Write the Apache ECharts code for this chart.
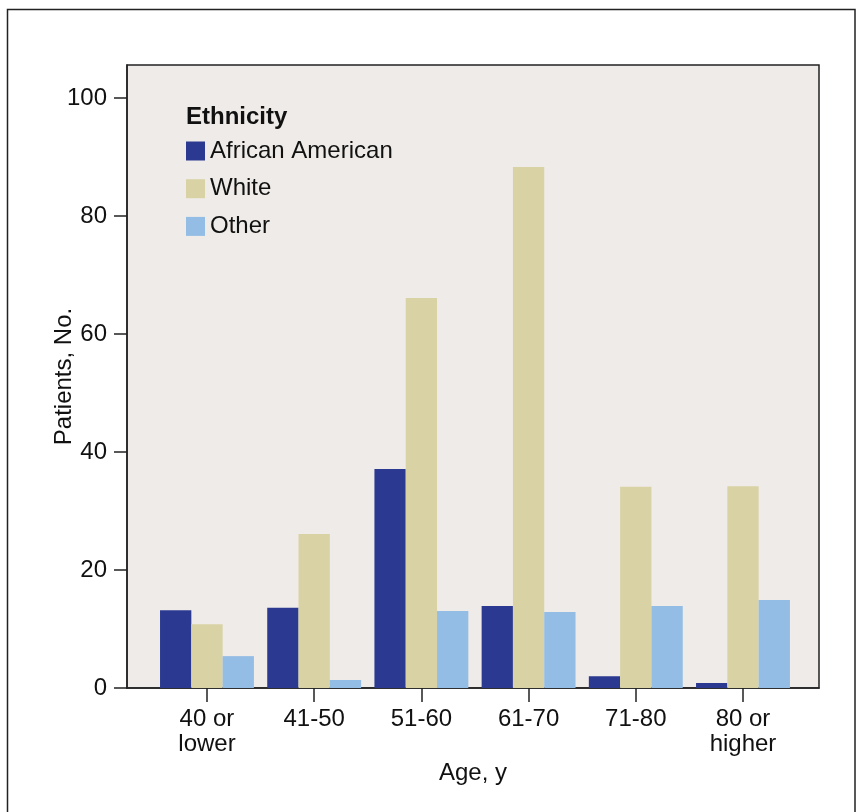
<!DOCTYPE html>
<html>
<head>
<meta charset="utf-8">
<script src="https://cdn.jsdelivr.net/npm/echarts@6/dist/echarts.min.js"></script>
<style>
  html, body { margin: 0; padding: 0; background: #ffffff; }
  #chart { width: 862px; height: 812px; }
</style>
</head>
<body>
<div id="chart"></div>
<script>
// ---- data ----
var categories = ['40 or\nlower', '41-50', '51-60', '61-70', '71-80', '80 or\nhigher'];
var seriesNames = ['African American', 'White', 'Other'];
var africanAmerican = [13.2, 13.6, 37.1, 13.9, 2.0, 0.85];
var white = [10.8, 26.1, 66.1, 88.3, 34.1, 34.2];
var other = [5.4, 1.35, 13.05, 12.9, 13.9, 14.9];
var yTicks = [0, 20, 40, 60, 80, 100];
var colors = ['#2b3990', '#d9d2a4', '#93bde4'];

var FONT = 'Liberation Sans, Arial, Helvetica, sans-serif';
var FS = 24;
var catIdx = categories.map(function (c, i) { return i; });

function toPairs(arr) { return arr.map(function (v, i) { return [i, v]; }); }

var chart = echarts.init(document.getElementById('chart'), null, { renderer: 'canvas' });

var seriesData = [africanAmerican, white, other];
var series = seriesData.map(function (arr, k) {
  return {
    name: seriesNames[k],
    type: 'bar',
    data: toPairs(arr),
    barWidth: 31.3,
    barGap: '0%',
    itemStyle: { color: colors[k] },
    emphasis: { disabled: true },
    animation: false
  };
});

var option = {
  animation: false,
  backgroundColor: '#ffffff',
  textStyle: { fontFamily: FONT },
  grid: {
    left: 127, right: 43, top: 65, bottom: 124,
    show: true,
    backgroundColor: '#efebe8',
    borderColor: '#222222',
    borderWidth: 1.5
  },
  legend: {
    orient: 'vertical',
    left: 186,
    top: 139,
    padding: 0,
    itemWidth: 19,
    itemHeight: 19,
    itemGap: 13.7,
    icon: 'rect',
    selectedMode: false,
    textStyle: { fontFamily: FONT, fontSize: FS, color: '#111111', lineHeight: 24 },
    data: seriesNames
  },
  xAxis: {
    type: 'value',
    min: -0.746,
    max: 5.709,
    splitLine: { show: false },
    axisLine: { show: true, onZero: false, lineStyle: { color: '#222222', width: 1.5 } },
    axisTick: { show: true, length: 14, customValues: catIdx, lineStyle: { color: '#222222', width: 1.5 } },
    axisLabel: {
      customValues: catIdx,
      margin: 19,
      fontFamily: FONT,
      fontSize: FS,
      lineHeight: 25,
      color: '#111111',
      formatter: function (v) { return categories[Math.round(v)] || ''; }
    },
    name: 'Age, y',
    nameLocation: 'middle',
    nameGap: 73,
    nameMoveOverlap: false,
    nameTextStyle: { fontFamily: FONT, fontSize: FS, color: '#111111' }
  },
  yAxis: {
    type: 'value',
    min: 0,
    max: 105.6,
    interval: 20,
    splitLine: { show: false },
    axisLine: { show: true, onZero: false, lineStyle: { color: '#222222', width: 1.5 } },
    axisTick: { show: true, length: 13, customValues: yTicks, lineStyle: { color: '#222222', width: 1.5 } },
    axisLabel: {
      customValues: yTicks,
      margin: 20,
      fontFamily: FONT,
      fontSize: FS,
      color: '#111111'
    },
    name: 'Patients, No.',
    nameLocation: 'middle',
    nameGap: 51,
    nameMoveOverlap: false,
    nameTextStyle: { fontFamily: FONT, fontSize: FS, color: '#111111' }
  },
  graphic: [
    {
      type: 'rect',
      silent: true,
      shape: { x: 7.5, y: 9.5, width: 847.5, height: 830 },
      style: { fill: 'none', stroke: '#222222', lineWidth: 1.5 },
      z: 100
    },
    {
      type: 'text',
      silent: true,
      left: 186,
      top: 105,
      style: { text: 'Ethnicity', font: 'bold ' + FS + 'px ' + FONT, fill: '#111111' },
      z: 100
    }
  ],
  series: series
};

chart.setOption(option);
</script>
</body>
</html>
